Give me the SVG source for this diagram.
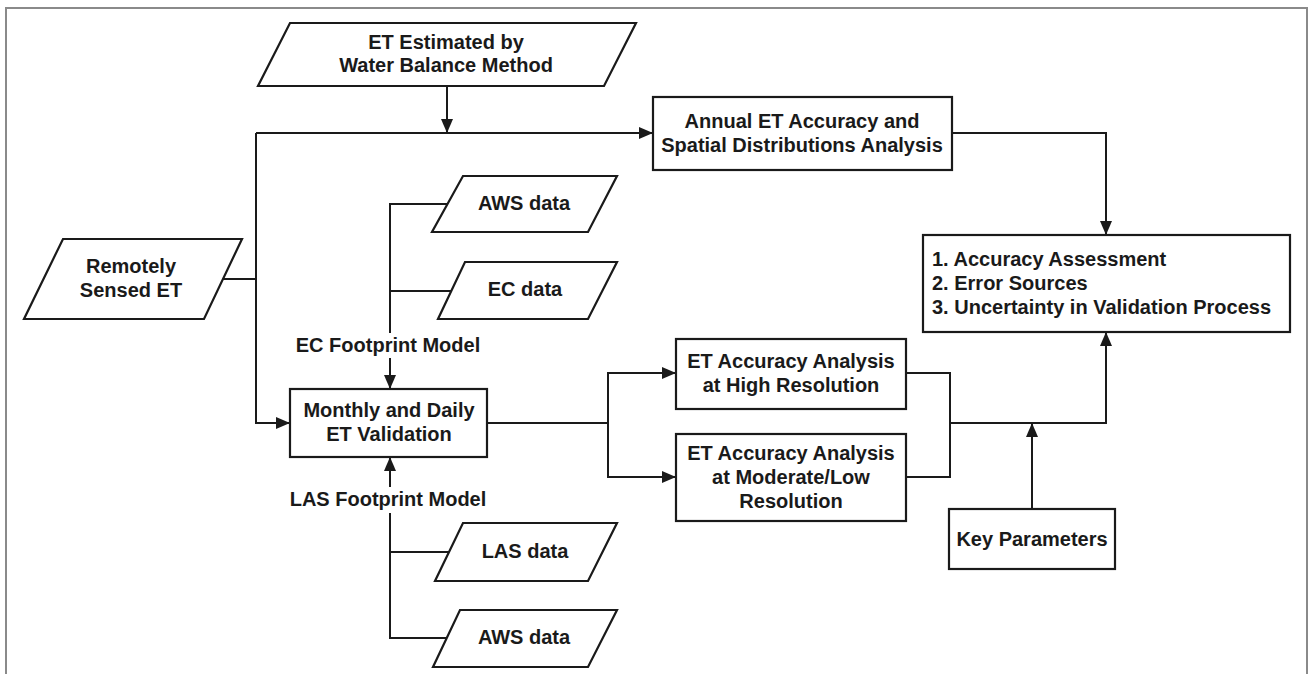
<svg xmlns="http://www.w3.org/2000/svg" width="1314" height="674" viewBox="0 0 1314 674">
  <style>
    .box { fill: #ffffff; stroke: #1a1a1a; stroke-width: 2.2; }
    .lbl { font-family: "Liberation Sans", Arial, sans-serif; font-weight: bold; font-size: 20px; fill: #1a1a1a; text-anchor: middle; }
    .lft { text-anchor: start; }
    .wire { fill: none; stroke: #1a1a1a; stroke-width: 2; }
    .arr { marker-end: url(#head); }
  </style>
  <defs>
    <marker id="head" markerUnits="userSpaceOnUse" markerWidth="16" markerHeight="16" viewBox="0 0 16 16" refX="14" refY="8" orient="auto">
      <path d="M0,2 L14,8 L0,14 Z" fill="#1a1a1a"/>
    </marker>
  </defs>

  <rect width="1314" height="674" fill="#ffffff"/>
  <!-- outer frame (open at the bottom) -->
  <path d="M6,680 V8 H1307 V680" fill="none" stroke="#8a8a8a" stroke-width="2"/>

  <g id="connectors">
    <!-- water balance ET onto the main feed -->
    <path class="wire arr" d="M447,86 V133"/>
    <!-- remotely sensed ET feed -->
    <path class="wire" d="M223,279 H256"/>
    <path class="wire arr" d="M256,133 H653"/>
    <path class="wire arr" d="M256,133 V423 H290"/>
    <!-- annual analysis to assessment -->
    <path class="wire arr" d="M952,133 H1106 V235"/>
    <!-- EC branch -->
    <path class="wire" d="M447,204 H390 V333"/>
    <path class="wire" d="M451,291 H390"/>
    <path class="wire arr" d="M390,358 V389"/>
    <!-- LAS branch -->
    <path class="wire arr" d="M390,487 V457"/>
    <path class="wire" d="M390,513 V638 H446"/>
    <path class="wire" d="M449,552 H390"/>
    <!-- validation split -->
    <path class="wire" d="M487,423 H608"/>
    <path class="wire arr" d="M608,423 V373 H676"/>
    <path class="wire arr" d="M608,423 V477 H676"/>
    <!-- resolution analyses merge -->
    <path class="wire" d="M906,373 H950 V477 H906"/>
    <path class="wire arr" d="M950,423 H1106 V332"/>
    <!-- key parameters -->
    <path class="wire arr" d="M1032,509 V423"/>
  </g>

  <g id="water-balance-et">
    <polygon class="box" points="290,23 636,23 604,86 258,86"/>
    <text class="lbl" x="446" y="49">ET Estimated by</text>
    <text class="lbl" x="446" y="72">Water Balance Method</text>
  </g>

  <g id="remotely-sensed-et">
    <polygon class="box" points="63,239 242,239 204,319 24,319"/>
    <text class="lbl" x="131" y="273">Remotely</text>
    <text class="lbl" x="131" y="297">Sensed ET</text>
  </g>

  <g id="annual-analysis">
    <rect class="box" x="653" y="97" width="299" height="73"/>
    <text class="lbl" x="802" y="128">Annual ET Accuracy and</text>
    <text class="lbl" x="802" y="152">Spatial Distributions Analysis</text>
  </g>

  <g id="assessment">
    <rect class="box" x="923" y="235" width="367" height="97"/>
    <text class="lbl lft" x="932" y="266">1. Accuracy Assessment</text>
    <text class="lbl lft" x="932" y="290">2. Error Sources</text>
    <text class="lbl lft" x="932" y="314">3. Uncertainty in Validation Process</text>
  </g>

  <g id="aws-data-ec">
    <polygon class="box" points="463,176 617,176 588,232 432,232"/>
    <text class="lbl" x="524" y="210">AWS data</text>
  </g>

  <g id="ec-data">
    <polygon class="box" points="465,262 617,262 588,319 438,319"/>
    <text class="lbl" x="525" y="296">EC data</text>
  </g>

  <g id="ec-footprint">
    <text class="lbl" x="388" y="352">EC Footprint Model</text>
  </g>

  <g id="validation">
    <rect class="box" x="290" y="389" width="197" height="68"/>
    <text class="lbl" x="389" y="417">Monthly and Daily</text>
    <text class="lbl" x="389" y="441">ET Validation</text>
  </g>

  <g id="las-footprint">
    <text class="lbl" x="388" y="506">LAS Footprint Model</text>
  </g>

  <g id="las-data">
    <polygon class="box" points="463,523 617,523 588,581 435,581"/>
    <text class="lbl" x="525" y="558">LAS data</text>
  </g>

  <g id="aws-data-las">
    <polygon class="box" points="460,610 617,610 588,667 433,667"/>
    <text class="lbl" x="524" y="644">AWS data</text>
  </g>

  <g id="high-resolution">
    <rect class="box" x="676" y="339" width="230" height="70"/>
    <text class="lbl" x="791" y="368">ET Accuracy Analysis</text>
    <text class="lbl" x="791" y="392">at High Resolution</text>
  </g>

  <g id="moderate-resolution">
    <rect class="box" x="676" y="434" width="230" height="87"/>
    <text class="lbl" x="791" y="460">ET Accuracy Analysis</text>
    <text class="lbl" x="791" y="484">at Moderate/Low</text>
    <text class="lbl" x="791" y="508">Resolution</text>
  </g>

  <g id="key-parameters">
    <rect class="box" x="949" y="509" width="166" height="60"/>
    <text class="lbl" x="1032" y="546">Key Parameters</text>
  </g>
</svg>
